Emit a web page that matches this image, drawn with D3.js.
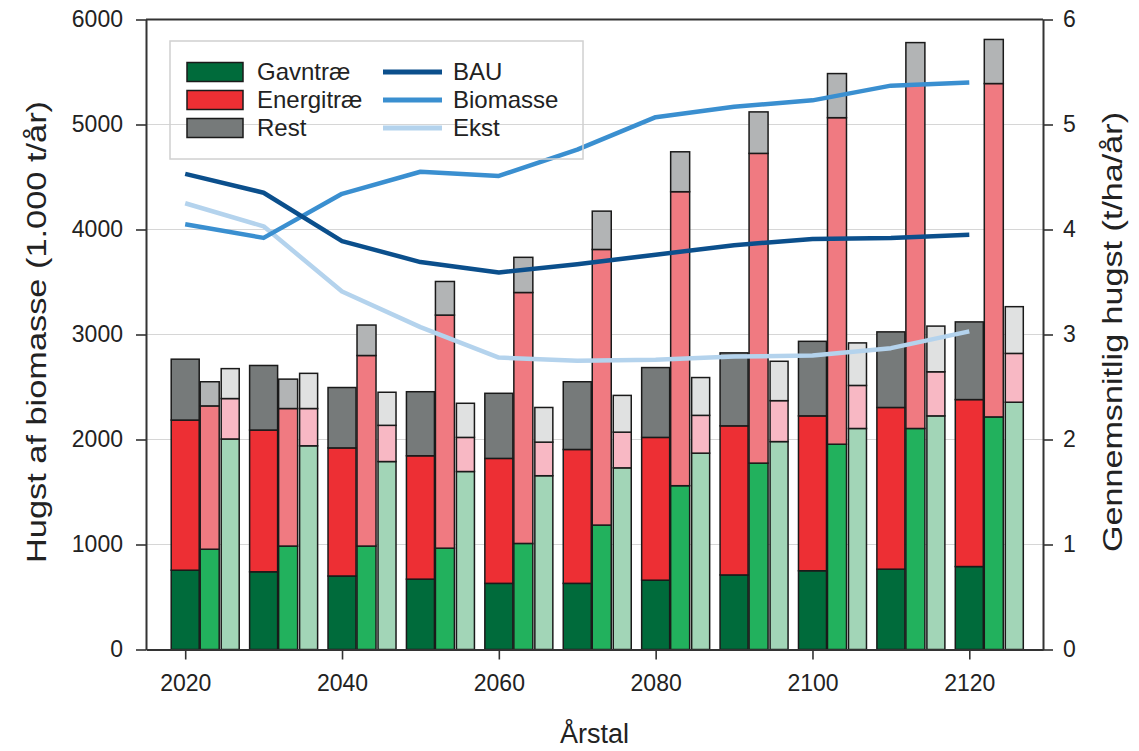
<!DOCTYPE html>
<html>
<head>
<meta charset="utf-8">
<script src="https://cdn.jsdelivr.net/npm/d3@7"></script>
<style>
  body { margin: 0; background: #fff; }
  svg { display: block; font-family: "Liberation Sans", Arial, sans-serif; }
</style>
</head>
<body>
<svg id="chart" width="1139" height="751"></svg>
<script>
// Decades shown on the x axis (one bar group per decade)
const years = [2020, 2030, 2040, 2050, 2060, 2070, 2080, 2090, 2100, 2110, 2120];

// Harvest per scenario and assortment (1.000 t/år)
const bauGavn   = [755, 740, 700, 670, 630, 630, 660, 710, 750, 765, 790];
const bauEnergi = [1430, 1350, 1220, 1175, 1190, 1275, 1360, 1420, 1475, 1540, 1590];
const bauRest   = [580, 615, 575, 610, 620, 645, 665, 695, 710, 720, 740];

const bioGavn   = [955, 985, 985, 965, 1010, 1185, 1560, 1775, 1955, 2105, 2215];
const bioEnergi = [1365, 1310, 1815, 2220, 2390, 2625, 2800, 2950, 3110, 3270, 3175];
const bioRest   = [230, 280, 290, 320, 335, 365, 380, 395, 420, 405, 420];

const ekstGavn   = [2005, 1940, 1790, 1695, 1655, 1730, 1870, 1980, 2105, 2225, 2355];
const ekstEnergi = [385, 355, 345, 325, 320, 340, 360, 390, 410, 420, 465];
const ekstRest   = [285, 335, 315, 325, 330, 350, 360, 375, 405, 435, 445];

// Average harvest per hectare (t/ha/år), right axis
const bauLine  = [4.53, 4.35, 3.89, 3.69, 3.59, 3.67, 3.76, 3.85, 3.91, 3.92, 3.95];
const bioLine  = [4.05, 3.92, 4.34, 4.55, 4.51, 4.76, 5.07, 5.17, 5.23, 5.37, 5.40];
const ekstLine = [4.25, 4.03, 3.41, 3.07, 2.78, 2.75, 2.76, 2.79, 2.80, 2.87, 3.03];

// Axis ticks
const leftTicks   = [0, 1000, 2000, 3000, 4000, 5000, 6000];
const rightTicks  = [0, 1, 2, 3, 4, 5, 6];
const bottomTicks = [2020, 2040, 2060, 2080, 2100, 2120];

const assortments = ["Gavntræ", "Energitræ", "Rest"];
const scenarioNames = ["BAU", "Biomasse", "Ekst"];

// ---- layout ----
const svg = d3.select("#chart");
const plotLeft = 146, plotRight = 1043, plotTop = 19.5, plotBottom = 649.5;

const x  = d3.scaleLinear().domain([2015, 2129.4]).range([plotLeft, plotRight]);
const yL = d3.scaleLinear().domain([0, 6000]).range([plotBottom, plotTop]);
const yR = d3.scaleLinear().domain([0, 6]).range([plotBottom, plotTop]);

// Bar placement within a decade group, in pixels relative to the decade position
const barSlots = [[-14, 14], [15, 34], [36, 54]];

const palette = {
  BAU:      { "Gavntræ": "#006b3b", "Energitræ": "#ed2f34", "Rest": "#767a7a" },
  Biomasse: { "Gavntræ": "#22b15d", "Energitræ": "#f07a81", "Rest": "#b2b4b5" },
  Ekst:     { "Gavntræ": "#a2d5b7", "Energitræ": "#f8b8c4", "Rest": "#e0e1e1" }
};
const lineColors = { BAU: "#0b4f8c", Biomasse: "#3a8fd0", Ekst: "#b4d3ed" };

// ---- gridlines ----
svg.append("g")
  .selectAll("line")
  .data(leftTicks.filter(t => t > 0 && t < 6000))
  .join("line")
  .attr("x1", plotLeft).attr("x2", plotRight)
  .attr("y1", d => yL(d)).attr("y2", d => yL(d))
  .attr("stroke", "#d6d6d6").attr("stroke-width", 1);

// ---- stacked bars ----
const scenarioData = [
  { name: "BAU",      Gavn: bauGavn,  Energi: bauEnergi,  Rest: bauRest },
  { name: "Biomasse", Gavn: bioGavn,  Energi: bioEnergi,  Rest: bioRest },
  { name: "Ekst",     Gavn: ekstGavn, Energi: ekstEnergi, Rest: ekstRest }
];

const stack = d3.stack().keys(assortments);
const barsG = svg.append("g");

scenarioData.forEach((sc, si) => {
  const rows = years.map((yr, i) => ({
    year: yr,
    "Gavntræ": sc.Gavn[i],
    "Energitræ": sc.Energi[i],
    "Rest": sc.Rest[i]
  }));
  const series = stack(rows);
  const [o0, o1] = barSlots[si];
  series.forEach(layer => {
    barsG.append("g")
      .attr("fill", palette[sc.name][layer.key])
      .selectAll("rect")
      .data(layer)
      .join("rect")
      .attr("x", d => x(d.data.year) + o0)
      .attr("width", o1 - o0)
      .attr("y", d => yL(d[1]))
      .attr("height", d => yL(d[0]) - yL(d[1]))
      .attr("stroke", "#1a1a1a")
      .attr("stroke-width", 1.5);
  });
});

// ---- lines ----
const lineGen = d3.line().x((d, i) => x(years[i])).y(d => yR(d));
[["Ekst", ekstLine], ["Biomasse", bioLine], ["BAU", bauLine]].forEach(([name, vals]) => {
  svg.append("path")
    .datum(vals)
    .attr("d", lineGen)
    .attr("fill", "none")
    .attr("stroke", lineColors[name])
    .attr("stroke-width", 4.5)
    .attr("stroke-linejoin", "round");
});

// ---- axes ----
const axisColor = "#333";
function styleAxis(g) {
  g.selectAll("path.domain").attr("stroke", axisColor).attr("stroke-width", 2);
  g.selectAll(".tick line").attr("stroke", axisColor).attr("stroke-width", 1.6);
  g.selectAll(".tick text").attr("fill", "#222").style("font-size", "23px");
}

svg.append("g")
  .attr("transform", `translate(${plotLeft},0)`)
  .call(d3.axisLeft(yL).tickValues(leftTicks).tickFormat(d3.format("d"))
    .tickSize(10).tickSizeOuter(0).tickPadding(13))
  .call(g => g.attr("font-family", null).attr("font-size", null))
  .call(styleAxis);

svg.append("g")
  .attr("transform", `translate(${plotRight},0)`)
  .call(d3.axisRight(yR).tickValues(rightTicks).tickFormat(d3.format("d"))
    .tickSize(10).tickSizeOuter(0).tickPadding(10))
  .call(g => g.attr("font-family", null).attr("font-size", null))
  .call(styleAxis);

svg.append("g")
  .attr("transform", `translate(0,${plotBottom})`)
  .call(d3.axisBottom(x).tickValues(bottomTicks).tickFormat(d3.format("d"))
    .tickSize(10).tickSizeOuter(0).tickPadding(15))
  .call(g => g.attr("font-family", null).attr("font-size", null))
  .call(styleAxis);

// top frame line
svg.append("line")
  .attr("x1", plotLeft).attr("x2", plotRight)
  .attr("y1", plotTop).attr("y2", plotTop)
  .attr("stroke", axisColor).attr("stroke-width", 2);

// ---- axis titles ----
svg.append("text")
  .attr("transform", `translate(46,332) rotate(-90)`)
  .attr("text-anchor", "middle")
  .attr("fill", "#222")
  .attr("textLength", 462)
  .attr("lengthAdjust", "spacingAndGlyphs")
  .style("font-size", "27px")
  .text("Hugst af biomasse (1.000 t/år)");

svg.append("text")
  .attr("transform", `translate(1122,332) rotate(-90)`)
  .attr("text-anchor", "middle")
  .attr("fill", "#222")
  .attr("textLength", 440)
  .attr("lengthAdjust", "spacingAndGlyphs")
  .style("font-size", "27px")
  .text("Gennemsnitlig hugst (t/ha/år)");

svg.append("text")
  .attr("x", (plotLeft + plotRight) / 2).attr("y", 743)
  .attr("text-anchor", "middle")
  .attr("fill", "#222")
  .style("font-size", "27px")
  .text("Årstal");

// ---- legend ----
const legend = svg.append("g");
legend.append("rect")
  .attr("x", 170).attr("y", 41).attr("width", 413).attr("height", 118)
  .attr("fill", "none").attr("stroke", "#d0d0d0").attr("stroke-width", 1.5);

const rowY = [72, 100, 128];
assortments.forEach((a, i) => {
  legend.append("rect")
    .attr("x", 187).attr("y", rowY[i] - 9.5).attr("width", 56).attr("height", 19)
    .attr("fill", palette.BAU[a]).attr("stroke", "#1a1a1a").attr("stroke-width", 1.5);
  legend.append("text")
    .attr("x", 257).attr("y", rowY[i] + 8)
    .attr("fill", "#222").style("font-size", "24px")
    .text(a);
});
scenarioNames.forEach((s, i) => {
  legend.append("line")
    .attr("x1", 383).attr("x2", 442).attr("y1", rowY[i]).attr("y2", rowY[i])
    .attr("stroke", lineColors[s]).attr("stroke-width", 5);
  legend.append("text")
    .attr("x", 453).attr("y", rowY[i] + 8)
    .attr("fill", "#222").style("font-size", "24px")
    .text(s);
});
</script>
</body>
</html>
